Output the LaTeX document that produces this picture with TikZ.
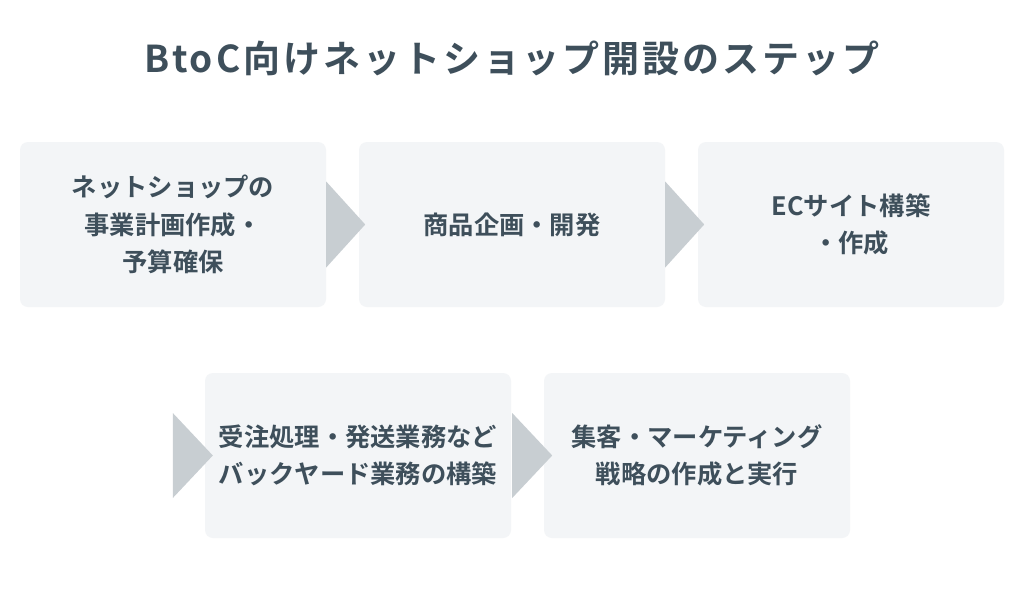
\documentclass[tikz,border=0pt]{standalone}
\usepackage{fontspec}
\setmainfont{Noto Sans CJK JP}[BoldFont={Noto Sans CJK JP Bold}]
\newfontfamily\titlefont{Noto Sans CJK JP Bold}[LetterSpace=8.0]
\usepackage{tikz}
\usepackage{xcolor}
\usetikzlibrary{calc}
\definecolor{textslate}{HTML}{3E4F5B}
\definecolor{boxgray}{HTML}{F3F5F7}
\definecolor{arrowgray}{HTML}{C8CED2}

\tikzset{
    stepbox/.style={rectangle, rounded corners=8pt, fill=boxgray, minimum width=306pt, minimum height=165pt, inner sep=0pt, align=center, text=textslate, font=\fontsize{25.3}{37.5}\selectfont\bfseries},
    steparrow/.style={fill=arrowgray}
}

\begin{document}
\begin{tikzpicture}[x=1pt, y=-1pt]
            \useasboundingbox[fill=white] (0, 0) rectangle (1024, 608);

            \node[text=textslate, font=\fontsize{37}{40}\selectfont\titlefont] (title) at (512, 58) {BtoC向けネットショップ開設のステップ};

            % first row
            \node[stepbox] (step1) at (173, 224.5) {ネットショップの\\事業計画作成・\\予算確保};
            \node[stepbox] (step2) at (512, 224.5) {商品企画・開発};
            \node[stepbox] (step3) at (851, 224.5) {ECサイト構築\\・作成};

            % second row
            \node[stepbox] (step4) at (358, 455.5) {受注処理・発送業務など\\バックヤード業務の構築};
            \node[stepbox] (step5) at (697, 455.5) {集客・マーケティング\\戦略の作成と実行};

            % arrows
            \fill[steparrow] ($(step1.east)+(0,-43)$) -- ($(step1.east)+(0,43)$) -- ($(step1.east)+(39,0)$) -- cycle;
            \fill[steparrow] ($(step2.east)+(0,-43)$) -- ($(step2.east)+(0,43)$) -- ($(step2.east)+(39,0)$) -- cycle;
            \fill[steparrow] ($(step4.west)+(-32,-42.5)$) -- ($(step4.west)+(-32,42.5)$) -- ($(step4.west)+(8,0)$) -- cycle;
            \fill[steparrow] ($(step4.east)+(1,-42.5)$) -- ($(step4.east)+(1,42.5)$) -- ($(step4.east)+(41,0)$) -- cycle;
        \end{tikzpicture}
\end{document}
